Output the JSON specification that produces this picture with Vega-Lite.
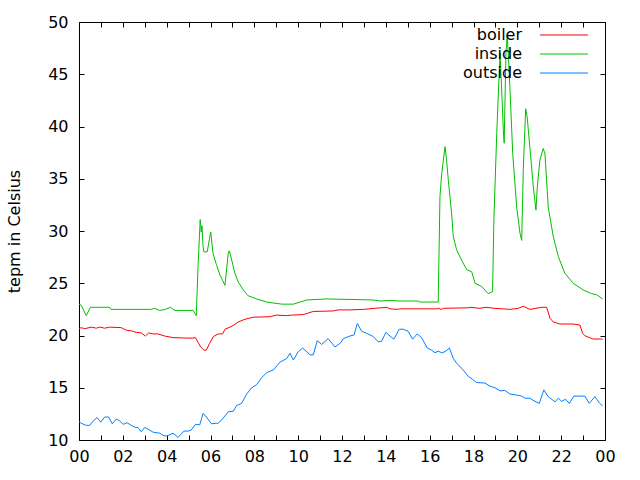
{
  "$schema": "https://vega.github.io/schema/vega-lite/v6.json",
  "width": 526,
  "height": 418,
  "autosize": {"type": "none"},
  "padding": {"left": 79, "top": 22, "right": 35, "bottom": 40},
  "background": "white",
  "config": {
    "font": "DejaVu Sans",
    "view": {"stroke": "black", "strokeWidth": 1},
    "axis": {
      "grid": false,
      "domain": false,
      "tickColor": "black",
      "tickSize": -5,
      "labelColor": "black",
      "labelFontSize": 16,
      "labelFont": "DejaVu Sans",
      "titleFont": "DejaVu Sans",
      "titleFontSize": 16,
      "titleFontWeight": "normal",
      "titleColor": "black"
    }
  },
  "data": {
    "values": [
      {"s": "boiler", "t": 0, "v": 20.65}, {"s": "boiler", "t": 0.1, "v": 20.75}, {"s": "boiler", "t": 0.26, "v": 20.65}, {"s": "boiler", "t": 0.56, "v": 20.8}, {"s": "boiler", "t": 0.79, "v": 20.7}, {"s": "boiler", "t": 0.94, "v": 20.8}, {"s": "boiler", "t": 1.17, "v": 20.7}, {"s": "boiler", "t": 1.4, "v": 20.8}, {"s": "boiler", "t": 1.93, "v": 20.75}, {"s": "boiler", "t": 2.16, "v": 20.5}, {"s": "boiler", "t": 2.39, "v": 20.45}, {"s": "boiler", "t": 2.61, "v": 20.3}, {"s": "boiler", "t": 2.84, "v": 20.25}, {"s": "boiler", "t": 3.03, "v": 19.95}, {"s": "boiler", "t": 3.18, "v": 20.25}, {"s": "boiler", "t": 3.38, "v": 20.15}, {"s": "boiler", "t": 3.6, "v": 20.15}, {"s": "boiler", "t": 3.91, "v": 19.95}, {"s": "boiler", "t": 4.29, "v": 19.8}, {"s": "boiler", "t": 4.97, "v": 19.75}, {"s": "boiler", "t": 5.2, "v": 19.75}, {"s": "boiler", "t": 5.31, "v": 19.8}, {"s": "boiler", "t": 5.43, "v": 19.35}, {"s": "boiler", "t": 5.55, "v": 18.9}, {"s": "boiler", "t": 5.7, "v": 18.6}, {"s": "boiler", "t": 5.81, "v": 18.6}, {"s": "boiler", "t": 5.96, "v": 19.25}, {"s": "boiler", "t": 6.13, "v": 19.9}, {"s": "boiler", "t": 6.36, "v": 20.15}, {"s": "boiler", "t": 6.55, "v": 20.15}, {"s": "boiler", "t": 6.66, "v": 20.6}, {"s": "boiler", "t": 6.89, "v": 20.8}, {"s": "boiler", "t": 7.07, "v": 21.0}, {"s": "boiler", "t": 7.27, "v": 21.3}, {"s": "boiler", "t": 7.57, "v": 21.55}, {"s": "boiler", "t": 7.95, "v": 21.75}, {"s": "boiler", "t": 8.71, "v": 21.8}, {"s": "boiler", "t": 9.02, "v": 21.95}, {"s": "boiler", "t": 9.48, "v": 21.9}, {"s": "boiler", "t": 9.7, "v": 21.95}, {"s": "boiler", "t": 10.23, "v": 22.0}, {"s": "boiler", "t": 10.69, "v": 22.3}, {"s": "boiler", "t": 11.6, "v": 22.35}, {"s": "boiler", "t": 11.83, "v": 22.45}, {"s": "boiler", "t": 12.36, "v": 22.45}, {"s": "boiler", "t": 12.97, "v": 22.5}, {"s": "boiler", "t": 13.5, "v": 22.6}, {"s": "boiler", "t": 14.04, "v": 22.7}, {"s": "boiler", "t": 14.19, "v": 22.55}, {"s": "boiler", "t": 14.52, "v": 22.5}, {"s": "boiler", "t": 14.64, "v": 22.55}, {"s": "boiler", "t": 16.32, "v": 22.55}, {"s": "boiler", "t": 16.39, "v": 22.6}, {"s": "boiler", "t": 16.55, "v": 22.5}, {"s": "boiler", "t": 16.62, "v": 22.6}, {"s": "boiler", "t": 17.76, "v": 22.65}, {"s": "boiler", "t": 17.84, "v": 22.7}, {"s": "boiler", "t": 18.29, "v": 22.6}, {"s": "boiler", "t": 18.52, "v": 22.7}, {"s": "boiler", "t": 18.98, "v": 22.6}, {"s": "boiler", "t": 19.66, "v": 22.5}, {"s": "boiler", "t": 20.04, "v": 22.6}, {"s": "boiler", "t": 20.27, "v": 22.8}, {"s": "boiler", "t": 20.57, "v": 22.5}, {"s": "boiler", "t": 21.11, "v": 22.7}, {"s": "boiler", "t": 21.34, "v": 22.7}, {"s": "boiler", "t": 21.49, "v": 21.65}, {"s": "boiler", "t": 21.64, "v": 21.3}, {"s": "boiler", "t": 21.94, "v": 21.1}, {"s": "boiler", "t": 22.55, "v": 21.1}, {"s": "boiler", "t": 22.86, "v": 21.0}, {"s": "boiler", "t": 22.98, "v": 20.2}, {"s": "boiler", "t": 23.08, "v": 19.98}, {"s": "boiler", "t": 23.46, "v": 19.66}, {"s": "boiler", "t": 23.89, "v": 19.66},
      {"s": "inside", "t": 0, "v": 23.0}, {"s": "inside", "t": 0.1, "v": 22.9}, {"s": "inside", "t": 0.33, "v": 21.9}, {"s": "inside", "t": 0.52, "v": 22.7}, {"s": "inside", "t": 1.4, "v": 22.7}, {"s": "inside", "t": 1.46, "v": 22.5}, {"s": "inside", "t": 3.27, "v": 22.5}, {"s": "inside", "t": 3.45, "v": 22.6}, {"s": "inside", "t": 3.68, "v": 22.4}, {"s": "inside", "t": 3.94, "v": 22.5}, {"s": "inside", "t": 4.17, "v": 22.7}, {"s": "inside", "t": 4.37, "v": 22.4}, {"s": "inside", "t": 5.2, "v": 22.4}, {"s": "inside", "t": 5.35, "v": 21.9}, {"s": "inside", "t": 5.43, "v": 26.5}, {"s": "inside", "t": 5.53, "v": 31.1}, {"s": "inside", "t": 5.58, "v": 29.9}, {"s": "inside", "t": 5.61, "v": 30.5}, {"s": "inside", "t": 5.66, "v": 28.5}, {"s": "inside", "t": 5.7, "v": 28.0}, {"s": "inside", "t": 5.85, "v": 28.0}, {"s": "inside", "t": 5.95, "v": 29.2}, {"s": "inside", "t": 6.01, "v": 29.9}, {"s": "inside", "t": 6.11, "v": 27.9}, {"s": "inside", "t": 6.28, "v": 26.7}, {"s": "inside", "t": 6.43, "v": 25.8}, {"s": "inside", "t": 6.66, "v": 24.8}, {"s": "inside", "t": 6.81, "v": 27.9}, {"s": "inside", "t": 6.86, "v": 28.1}, {"s": "inside", "t": 6.97, "v": 27.2}, {"s": "inside", "t": 7.12, "v": 25.9}, {"s": "inside", "t": 7.27, "v": 25.1}, {"s": "inside", "t": 7.5, "v": 24.35}, {"s": "inside", "t": 7.72, "v": 23.8}, {"s": "inside", "t": 8.11, "v": 23.5}, {"s": "inside", "t": 8.56, "v": 23.2}, {"s": "inside", "t": 9.25, "v": 23.0}, {"s": "inside", "t": 9.78, "v": 23.0}, {"s": "inside", "t": 10.39, "v": 23.4}, {"s": "inside", "t": 11.3, "v": 23.5}, {"s": "inside", "t": 12.36, "v": 23.45}, {"s": "inside", "t": 13.43, "v": 23.4}, {"s": "inside", "t": 13.73, "v": 23.3}, {"s": "inside", "t": 14.19, "v": 23.35}, {"s": "inside", "t": 14.64, "v": 23.3}, {"s": "inside", "t": 15.48, "v": 23.3}, {"s": "inside", "t": 15.56, "v": 23.2}, {"s": "inside", "t": 16.39, "v": 23.2}, {"s": "inside", "t": 16.47, "v": 33.3}, {"s": "inside", "t": 16.55, "v": 35.5}, {"s": "inside", "t": 16.7, "v": 38.07}, {"s": "inside", "t": 16.77, "v": 36.8}, {"s": "inside", "t": 16.85, "v": 34.9}, {"s": "inside", "t": 17.0, "v": 31.7}, {"s": "inside", "t": 17.08, "v": 29.45}, {"s": "inside", "t": 17.23, "v": 28.2}, {"s": "inside", "t": 17.46, "v": 27.2}, {"s": "inside", "t": 17.69, "v": 26.3}, {"s": "inside", "t": 17.92, "v": 26.1}, {"s": "inside", "t": 18.07, "v": 25.0}, {"s": "inside", "t": 18.37, "v": 24.7}, {"s": "inside", "t": 18.67, "v": 24.0}, {"s": "inside", "t": 18.87, "v": 24.2}, {"s": "inside", "t": 18.93, "v": 31.05}, {"s": "inside", "t": 19.06, "v": 39.3}, {"s": "inside", "t": 19.21, "v": 47.0}, {"s": "inside", "t": 19.28, "v": 43.8}, {"s": "inside", "t": 19.36, "v": 39.7}, {"s": "inside", "t": 19.4, "v": 38.4}, {"s": "inside", "t": 19.48, "v": 47.0}, {"s": "inside", "t": 19.54, "v": 48.75}, {"s": "inside", "t": 19.6, "v": 46.4}, {"s": "inside", "t": 19.66, "v": 43.8}, {"s": "inside", "t": 19.79, "v": 37.4}, {"s": "inside", "t": 19.97, "v": 32.3}, {"s": "inside", "t": 20.12, "v": 29.8}, {"s": "inside", "t": 20.2, "v": 29.1}, {"s": "inside", "t": 20.27, "v": 35.8}, {"s": "inside", "t": 20.38, "v": 41.7}, {"s": "inside", "t": 20.45, "v": 40.9}, {"s": "inside", "t": 20.57, "v": 38.07}, {"s": "inside", "t": 20.73, "v": 34.2}, {"s": "inside", "t": 20.85, "v": 32.0}, {"s": "inside", "t": 20.91, "v": 34.2}, {"s": "inside", "t": 21.03, "v": 36.8}, {"s": "inside", "t": 21.18, "v": 37.9}, {"s": "inside", "t": 21.26, "v": 37.4}, {"s": "inside", "t": 21.41, "v": 32.3}, {"s": "inside", "t": 21.64, "v": 29.45}, {"s": "inside", "t": 21.87, "v": 27.55}, {"s": "inside", "t": 22.17, "v": 25.95}, {"s": "inside", "t": 22.55, "v": 25.0}, {"s": "inside", "t": 23.01, "v": 24.35}, {"s": "inside", "t": 23.39, "v": 24.0}, {"s": "inside", "t": 23.62, "v": 23.9}, {"s": "inside", "t": 23.89, "v": 23.5},
      {"s": "outside", "t": 0, "v": 11.75}, {"s": "outside", "t": 0.1, "v": 11.6}, {"s": "outside", "t": 0.33, "v": 11.4}, {"s": "outside", "t": 0.49, "v": 11.4}, {"s": "outside", "t": 0.64, "v": 11.8}, {"s": "outside", "t": 0.82, "v": 12.15}, {"s": "outside", "t": 0.99, "v": 11.7}, {"s": "outside", "t": 1.17, "v": 12.2}, {"s": "outside", "t": 1.35, "v": 12.2}, {"s": "outside", "t": 1.52, "v": 11.55}, {"s": "outside", "t": 1.7, "v": 12.0}, {"s": "outside", "t": 1.85, "v": 11.85}, {"s": "outside", "t": 2.01, "v": 11.5}, {"s": "outside", "t": 2.19, "v": 11.65}, {"s": "outside", "t": 2.39, "v": 11.4}, {"s": "outside", "t": 2.57, "v": 11.2}, {"s": "outside", "t": 2.69, "v": 11.2}, {"s": "outside", "t": 2.84, "v": 10.8}, {"s": "outside", "t": 3.0, "v": 11.2}, {"s": "outside", "t": 3.22, "v": 10.95}, {"s": "outside", "t": 3.38, "v": 10.75}, {"s": "outside", "t": 3.68, "v": 10.65}, {"s": "outside", "t": 3.88, "v": 10.4}, {"s": "outside", "t": 4.03, "v": 10.4}, {"s": "outside", "t": 4.29, "v": 10.65}, {"s": "outside", "t": 4.52, "v": 10.25}, {"s": "outside", "t": 4.79, "v": 10.85}, {"s": "outside", "t": 4.97, "v": 10.85}, {"s": "outside", "t": 5.12, "v": 10.95}, {"s": "outside", "t": 5.31, "v": 11.5}, {"s": "outside", "t": 5.51, "v": 11.45}, {"s": "outside", "t": 5.66, "v": 12.55}, {"s": "outside", "t": 5.85, "v": 12.1}, {"s": "outside", "t": 6.04, "v": 11.55}, {"s": "outside", "t": 6.26, "v": 11.6}, {"s": "outside", "t": 6.36, "v": 11.6}, {"s": "outside", "t": 6.58, "v": 12.1}, {"s": "outside", "t": 6.81, "v": 12.7}, {"s": "outside", "t": 7.04, "v": 12.75}, {"s": "outside", "t": 7.19, "v": 13.3}, {"s": "outside", "t": 7.42, "v": 13.5}, {"s": "outside", "t": 7.65, "v": 14.4}, {"s": "outside", "t": 7.88, "v": 15.0}, {"s": "outside", "t": 8.11, "v": 15.3}, {"s": "outside", "t": 8.33, "v": 15.95}, {"s": "outside", "t": 8.56, "v": 16.45}, {"s": "outside", "t": 8.87, "v": 16.7}, {"s": "outside", "t": 9.17, "v": 17.45}, {"s": "outside", "t": 9.48, "v": 17.8}, {"s": "outside", "t": 9.63, "v": 18.3}, {"s": "outside", "t": 9.78, "v": 17.65}, {"s": "outside", "t": 10.0, "v": 18.45}, {"s": "outside", "t": 10.21, "v": 18.8}, {"s": "outside", "t": 10.54, "v": 18.15}, {"s": "outside", "t": 10.69, "v": 18.15}, {"s": "outside", "t": 10.87, "v": 19.5}, {"s": "outside", "t": 11.07, "v": 19.15}, {"s": "outside", "t": 11.37, "v": 19.7}, {"s": "outside", "t": 11.68, "v": 18.9}, {"s": "outside", "t": 11.94, "v": 19.3}, {"s": "outside", "t": 12.06, "v": 19.7}, {"s": "outside", "t": 12.36, "v": 19.95}, {"s": "outside", "t": 12.55, "v": 20.05}, {"s": "outside", "t": 12.7, "v": 21.15}, {"s": "outside", "t": 12.9, "v": 20.4}, {"s": "outside", "t": 13.13, "v": 20.2}, {"s": "outside", "t": 13.43, "v": 19.9}, {"s": "outside", "t": 13.65, "v": 19.4}, {"s": "outside", "t": 13.81, "v": 19.45}, {"s": "outside", "t": 14.0, "v": 20.3}, {"s": "outside", "t": 14.19, "v": 19.95}, {"s": "outside", "t": 14.37, "v": 19.65}, {"s": "outside", "t": 14.61, "v": 20.6}, {"s": "outside", "t": 14.8, "v": 20.6}, {"s": "outside", "t": 15.02, "v": 20.4}, {"s": "outside", "t": 15.22, "v": 19.65}, {"s": "outside", "t": 15.43, "v": 20.15}, {"s": "outside", "t": 15.63, "v": 19.8}, {"s": "outside", "t": 15.89, "v": 18.8}, {"s": "outside", "t": 16.09, "v": 18.6}, {"s": "outside", "t": 16.24, "v": 18.35}, {"s": "outside", "t": 16.39, "v": 18.5}, {"s": "outside", "t": 16.55, "v": 18.35}, {"s": "outside", "t": 16.7, "v": 18.45}, {"s": "outside", "t": 16.9, "v": 18.8}, {"s": "outside", "t": 17.08, "v": 17.8}, {"s": "outside", "t": 17.23, "v": 17.35}, {"s": "outside", "t": 17.53, "v": 16.7}, {"s": "outside", "t": 17.76, "v": 16.1}, {"s": "outside", "t": 17.96, "v": 15.8}, {"s": "outside", "t": 18.14, "v": 15.5}, {"s": "outside", "t": 18.52, "v": 15.45}, {"s": "outside", "t": 18.75, "v": 15.15}, {"s": "outside", "t": 18.98, "v": 15.0}, {"s": "outside", "t": 19.21, "v": 14.7}, {"s": "outside", "t": 19.43, "v": 14.75}, {"s": "outside", "t": 19.66, "v": 14.4}, {"s": "outside", "t": 19.97, "v": 14.3}, {"s": "outside", "t": 20.2, "v": 14.2}, {"s": "outside", "t": 20.35, "v": 14.0}, {"s": "outside", "t": 20.57, "v": 14.0}, {"s": "outside", "t": 20.8, "v": 13.7}, {"s": "outside", "t": 21.0, "v": 13.5}, {"s": "outside", "t": 21.21, "v": 14.8}, {"s": "outside", "t": 21.41, "v": 14.15}, {"s": "outside", "t": 21.72, "v": 13.65}, {"s": "outside", "t": 21.87, "v": 14.0}, {"s": "outside", "t": 22.02, "v": 13.7}, {"s": "outside", "t": 22.2, "v": 13.9}, {"s": "outside", "t": 22.37, "v": 13.5}, {"s": "outside", "t": 22.58, "v": 14.2}, {"s": "outside", "t": 23.08, "v": 14.2}, {"s": "outside", "t": 23.28, "v": 13.5}, {"s": "outside", "t": 23.54, "v": 14.15}, {"s": "outside", "t": 23.74, "v": 13.55}, {"s": "outside", "t": 23.89, "v": 13.25}
    ]
  },
  "layer": [
    {
      "mark": {"type": "line", "strokeWidth": 1},
      "encoding": {
        "x": {
          "field": "t", "type": "quantitative",
          "scale": {"domain": [0, 24], "nice": false, "zero": false},
          "axis": {
            "orient": "bottom", "title": null,
            "values": [0,1,2,3,4,5,6,7,8,9,10,11,12,13,14,15,16,17,18,19,20,21,22,23,24],
            "labelExpr": "datum.value % 2 ? '' : ((datum.value % 24) < 10 ? '0' : '') + (datum.value % 24)",
            "labelFlush": false, "labelOverlap": false, "labelPadding": 13
          }
        },
        "y": {
          "field": "v", "type": "quantitative",
          "scale": {"domain": [10, 50], "nice": false, "zero": false},
          "axis": {
            "orient": "left", "title": "tepm in Celsius",
            "values": [10,15,20,25,30,35,40,45,50],
            "labelPadding": 16, "titlePadding": 25, "labelFlush": false, "labelOverlap": false
          }
        },
        "color": {
          "field": "s", "type": "nominal",
          "scale": {"domain": ["boiler", "inside", "outside"], "range": ["#ff0000", "#00c000", "#0080ff"]},
          "legend": {
            "title": null, "orient": "none", "legendX": 477, "legendY": 5,
            "symbolType": "M-8,0H8", "symbolSize": 36, "symbolStrokeWidth": 1,
            "labelAlign": "right", "labelOffset": -50,
            "labelFontSize": 16, "labelFont": "DejaVu Sans", "labelColor": "black",
            "rowPadding": 3
          }
        }
      }
    },
    {
      "mark": {"type": "line", "opacity": 0},
      "encoding": {
        "x": {
          "field": "t", "type": "quantitative",
          "axis": {"orient": "top", "title": null, "labels": false,
            "values": [0,1,2,3,4,5,6,7,8,9,10,11,12,13,14,15,16,17,18,19,20,21,22,23,24]}
        },
        "y": {
          "field": "v", "type": "quantitative",
          "axis": {"orient": "right", "title": null, "labels": false,
            "values": [10,15,20,25,30,35,40,45,50]}
        },
        "detail": {"field": "s", "type": "nominal"}
      }
    }
  ],
  "resolve": {"axis": {"x": "independent", "y": "independent"}}
}
